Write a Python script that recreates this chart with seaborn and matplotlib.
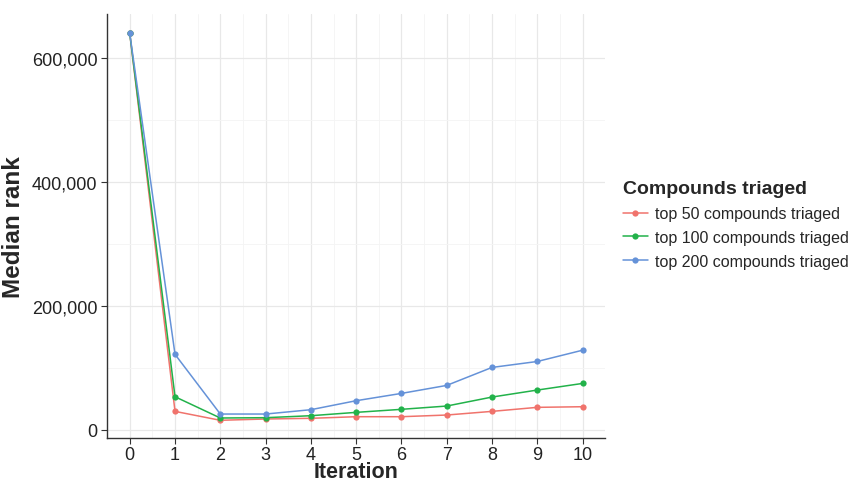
import matplotlib
matplotlib.use("Agg")
import matplotlib.pyplot as plt
import matplotlib.ticker as mticker
import seaborn as sns
import pandas as pd

iterations = list(range(11))
top50 = [640000, 30000, 15600, 17700, 18800, 21400, 21400, 24100, 30000, 36500, 37500]
top100 = [640000, 53600, 19300, 19800, 23000, 28400, 33300, 38600, 53100, 64400, 75100]
top200 = [640000, 122000, 25700, 25700, 32700, 47200, 59000, 71900, 100900, 110500, 128700]
series_names = ["top 50 compounds triaged", "top 100 compounds triaged", "top 200 compounds triaged"]
colors = ["#F0736C", "#22B24A", "#6592D8"]
y_ticks = [0, 200000, 400000, 600000]

rows = []
for name, vals in zip(series_names, [top50, top100, top200]):
    for it, v in zip(iterations, vals):
        rows.append({"Iteration": it, "Median rank": v, "Compounds triaged": name})
df = pd.DataFrame(rows)

sns.set_style("white")
plt.rcParams["font.family"] = ["Liberation Sans", "DejaVu Sans"]

fig = plt.figure(figsize=(8.5, 4.85), dpi=100)
ax = fig.add_axes([0.126, 0.0948, 0.586, 0.874])

sns.lineplot(data=df, x="Iteration", y="Median rank", hue="Compounds triaged",
             hue_order=series_names, palette=colors, marker="o", markersize=4.5,
             markeredgewidth=0, linewidth=1.1, ax=ax)

ax.set_xlim(-0.45, 10.45)
ax.set_ylim(-13000, 671000)
ax.set_xticks(iterations)
ax.set_yticks(y_ticks)
ax.set_xticks([i + 0.5 for i in range(-1, 11)], minor=True)
ax.set_yticks([100000, 300000, 500000], minor=True)
ax.yaxis.set_major_formatter(mticker.FuncFormatter(lambda v, p: f"{int(v):,}"))
ax.grid(True, which="major", color="#e8e8e8", linewidth=0.9)
ax.grid(True, which="minor", color="#f4f4f4", linewidth=0.6)
ax.set_axisbelow(True)

for s in ["top", "right"]:
    ax.spines[s].set_visible(False)
for s in ["left", "bottom"]:
    ax.spines[s].set_color("#333333")
    ax.spines[s].set_linewidth(1.0)

ax.tick_params(which="major", axis="both", direction="out", length=4, width=0.8,
               color="#333333", labelsize=13, labelcolor="#222222", pad=3,
               bottom=True, left=True)
ax.tick_params(which="major", axis="x", pad=1.5)
ax.tick_params(which="minor", length=0)

ax.set_xlabel("Iteration", fontsize=15.5, fontweight="bold", labelpad=-1)
ax.set_ylabel("Median rank", fontsize=17.5, fontweight="bold", labelpad=5)

leg = ax.legend(title="Compounds triaged", loc="center left",
                bbox_to_anchor=(0.725, 0.535), bbox_transform=fig.transFigure,
                frameon=False, fontsize=11.5, title_fontsize=14,
                handlelength=1.6, handletextpad=0.4, labelspacing=0.55,
                borderaxespad=0)
leg.get_title().set_fontweight("bold")
leg._legend_box.align = "left"

fig.savefig("out.png", dpi=100)
